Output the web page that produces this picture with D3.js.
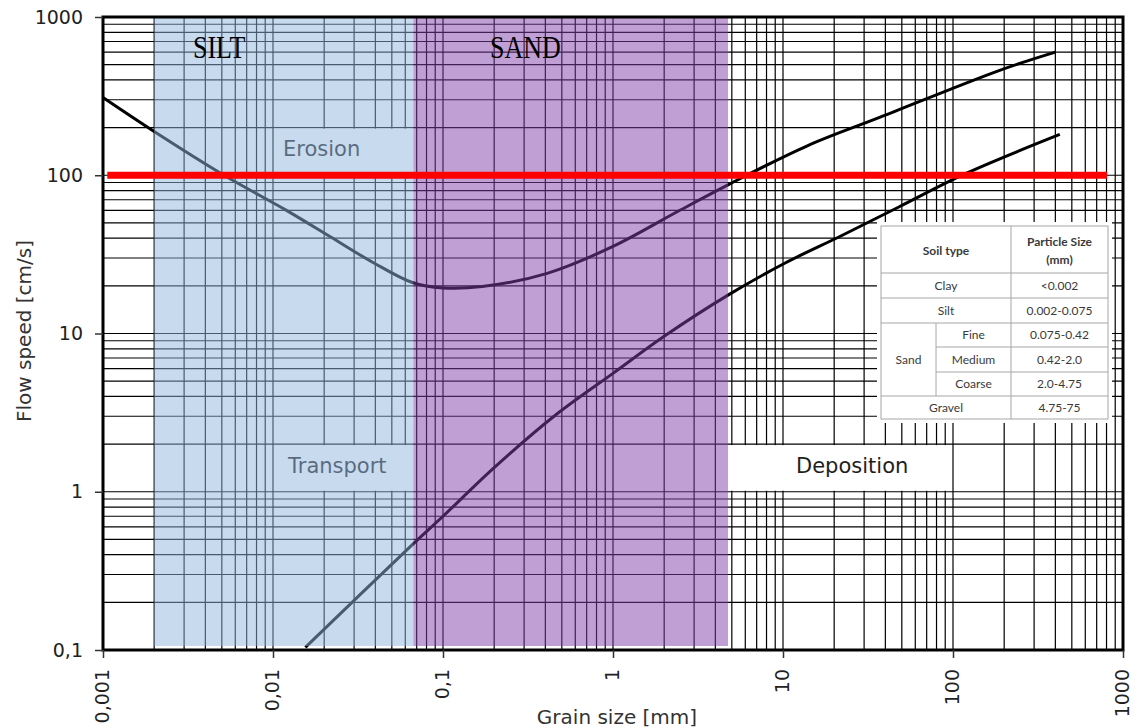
<!DOCTYPE html>
<html>
<head>
<meta charset="utf-8">
<script src="https://cdn.jsdelivr.net/npm/d3@7"></script>
<style>
    body { margin: 0; background: #fff; }
    svg { display: block; }
</style>
</head>
<body>
<div id="chart"></div>
<script>
// grain size [mm] / flow speed [cm/s]
var erosionSize  = [0.001, 0.002, 0.00515, 0.012, 0.0216, 0.039, 0.066, 0.1, 0.17, 0.41, 1, 2.4, 4.75, 13.8, 37, 190, 400];
var erosionSpeed = [310, 189, 100, 60, 41, 28, 21, 19.4, 19.8, 24, 35.5, 59, 87, 153, 232, 462, 600];

var depositSize  = [0.0155, 0.067, 0.1, 0.2, 0.45, 1, 2, 4.8, 10.3, 21.6, 48, 120, 425];
var depositSpeed = [0.104, 0.47, 0.7, 1.42, 3.0, 5.6, 9.6, 17.6, 27.9, 41, 63, 103, 181];

// shaded bands (grain size limits)
var bandNames = ["SILT", "SAND"];
var bandFrom  = [0.002, 0.067];
var bandTo    = [0.067, 4.75];

// zone labels: text, size range, speed range
var zoneNames     = ["Erosion", "Transport", "Deposition"];
var zoneSizeFrom  = [0.01, 0.01, 4.75];
var zoneSizeTo    = [0.067, 0.067, 100];
var zoneSpeedFrom = [100, 1, 1];
var zoneSpeedTo   = [200, 2, 2];

// red reference line
var refSpeed = 100;
var refFrom = 0.00106, refTo = 805;

var xTicks = [0.001, 0.01, 0.1, 1, 10, 100, 1000];
var xTickLabels = ["0,001", "0,01", "0,1", "1", "10", "100", "1000"];
var yTicks = [0.1, 1, 10, 100, 1000];
var yTickLabels = ["0,1", "1", "10", "100", "1000"];

// soil table
var tableHead = ["Soil type", "Particle Size", "(mm)"];
var soilNames = ["Clay", "Silt", "Fine", "Medium", "Coarse", "Gravel"];
var soilSizes = ["<0.002", "0.002-0.075", "0.075-0.42", "0.42-2.0", "2.0-4.75", "4.75-75"];

(function(){
    var W = 1134, H = 728;
    var svg = d3.select("#chart").append("svg").attr("width", W).attr("height", H);

    var x = d3.scaleLog().domain([0.001, 1000]).range([103, 1123]);
    var y = d3.scaleLog().domain([0.1, 1000]).range([650, 17]);

    //minor grid 1..9 per decade
    var gridX = [], gridY = [];
    for (var k = -3; k < 3; k++){
        for (var d = 1; d < 10; d++){ gridX.push(d * Math.pow(10, k)); }
    }
    for (var k = -1; k < 3; k++){
        for (var d = 1; d < 10; d++){ gridY.push(d * Math.pow(10, k)); }
    }
    var grid = svg.append("g").attr("stroke", "#000").attr("stroke-width", 1.2);
    grid.selectAll(".gx").data(gridX).enter().append("line")
        .attr("x1", function(d){ return x(d); }).attr("x2", function(d){ return x(d); })
        .attr("y1", y(1000)).attr("y2", y(0.1));
    grid.selectAll(".gy").data(gridY).enter().append("line")
        .attr("x1", x(0.001)).attr("x2", x(1000))
        .attr("y1", function(d){ return y(d); }).attr("y2", function(d){ return y(d); });

    //curves
    var line = d3.line()
        .x(function(d){ return x(d[0]); })
        .y(function(d){ return y(d[1]); })
        .curve(d3.curveCatmullRom.alpha(0.5));
    var curves = [d3.zip(erosionSize, erosionSpeed), d3.zip(depositSize, depositSpeed)];
    svg.selectAll(".curve").data(curves).enter().append("path")
        .attr("d", line)
        .attr("fill", "none")
        .attr("stroke", "#000")
        .attr("stroke-width", 3)
        .attr("stroke-linejoin", "round");

    //zone label boxes hide the grid
    var zones = svg.selectAll(".zone").data(zoneNames).enter().append("g");
    zones.append("rect")
        .attr("x", function(d, i){ return x(zoneSizeFrom[i]) + 1; })
        .attr("y", function(d, i){ return y(zoneSpeedTo[i]) + 1; })
        .attr("width", function(d, i){ return x(zoneSizeTo[i]) - x(zoneSizeFrom[i]) - 2; })
        .attr("height", function(d, i){ return y(zoneSpeedFrom[i]) - y(zoneSpeedTo[i]) - 2; })
        .attr("fill", "#fff");
    zones.append("text")
        .attr("x", function(d, i){ return i == 2 ? x(zoneSizeFrom[i]) + 68 : x(zoneSizeFrom[i]) + (i == 0 ? 10 : 15); })
        .attr("y", function(d, i){ return y(zoneSpeedFrom[i]) - 19; })
        .attr("font-family", "DejaVu Sans")
        .attr("font-size", 21)
        .attr("fill", "#1e1e1e")
        .text(function(d){ return d; });

    //translucent bands
    var bandColors = ["rgb(146,182,222)", "rgb(130,66,170)"];
    svg.selectAll(".band").data(bandNames).enter().append("rect")
        .attr("x", function(d, i){ return x(bandFrom[i]); })
        .attr("y", y(1000) + 1)
        .attr("width", function(d, i){ return x(bandTo[i]) - x(bandFrom[i]); })
        .attr("height", y(0.1) - y(1000) - 5)
        .attr("fill", function(d, i){ return bandColors[i]; })
        .attr("fill-opacity", 0.5);

    //red line
    svg.append("line")
        .attr("x1", x(refFrom)).attr("x2", x(refTo))
        .attr("y1", y(refSpeed)).attr("y2", y(refSpeed))
        .attr("stroke", "#ff0000").attr("stroke-width", 7);

    //band titles
    svg.selectAll(".bandTitle").data(bandNames).enter().append("text")
        .attr("transform", function(d, i){
            var tx = i == 0 ? 193 : 490;
            return "translate(" + tx + ",58) scale(1,1.18)";
        })
        .attr("font-family", "Liberation Serif")
        .attr("font-size", 26)
        .attr("fill", "#000")
        .text(function(d){ return d; });

    //soil table
    var tx0 = 881, tx1 = 936, tx2 = 1011, tx3 = 1108;
    var rowY = [226, 273, 298, 323, 347, 372, 396, 419];
    var tbl = svg.append("g").attr("font-family", "Lato").attr("font-size", 12).attr("fill", "#3a3a3a");
    tbl.append("rect").attr("x", 877).attr("y", 222).attr("width", 235).attr("height", 201).attr("fill", "#fff");
    var lc = "#a6a6a6";
    tbl.append("rect").attr("x", tx0).attr("y", rowY[0]).attr("width", tx3 - tx0).attr("height", rowY[7] - rowY[0])
        .attr("fill", "none").attr("stroke", lc);
    rowY.slice(1, 7).forEach(function(ry, i){
        var start = (i >= 3 && i <= 4) ? tx1 : tx0;
        tbl.append("line").attr("x1", start).attr("x2", tx3).attr("y1", ry).attr("y2", ry).attr("stroke", lc);
    });
    tbl.append("line").attr("x1", tx2).attr("x2", tx2).attr("y1", rowY[0]).attr("y2", rowY[7]).attr("stroke", lc);
    tbl.append("line").attr("x1", tx1).attr("x2", tx1).attr("y1", rowY[3]).attr("y2", rowY[6]).attr("stroke", lc);

    tbl.append("text").attr("x", (tx0 + tx2) / 2).attr("y", 255).attr("text-anchor", "middle")
        .attr("font-weight", "bold").text(tableHead[0]);
    tbl.append("text").attr("x", (tx2 + tx3) / 2).attr("y", 246).attr("text-anchor", "middle")
        .attr("font-weight", "bold").text(tableHead[1]);
    tbl.append("text").attr("x", (tx2 + tx3) / 2).attr("y", 264).attr("text-anchor", "middle")
        .attr("font-weight", "bold").text(tableHead[2]);
    soilNames.forEach(function(name, i){
        var cy = (rowY[i + 1] + rowY[i + 2]) / 2 + 4;
        var cx = (i >= 2 && i <= 4) ? (tx1 + tx2) / 2 : (tx0 + tx2) / 2;
        tbl.append("text").attr("x", cx).attr("y", cy).attr("text-anchor", "middle").text(name);
        tbl.append("text").attr("x", (tx2 + tx3) / 2).attr("y", cy).attr("text-anchor", "middle").text(soilSizes[i]);
    });
    tbl.append("text").attr("x", (tx0 + tx1) / 2).attr("y", (rowY[3] + rowY[6]) / 2 + 4)
        .attr("text-anchor", "middle").text("Sand");

    //frame
    svg.append("rect")
        .attr("x", x(0.001)).attr("y", y(1000))
        .attr("width", x(1000) - x(0.001)).attr("height", y(0.1) - y(1000))
        .attr("fill", "none").attr("stroke", "#000").attr("stroke-width", 3);

    //axes
    var yAxis = d3.axisLeft(y).tickValues(yTicks).tickSize(8).tickPadding(12)
        .tickFormat(function(d, i){ return yTickLabels[i]; });
    var gy = svg.append("g").attr("transform", "translate(" + x(0.001) + ",0)").call(yAxis);
    gy.select(".domain").remove();
    gy.selectAll("line").attr("stroke", "#333").attr("stroke-width", 1.5);
    gy.selectAll("text").attr("font-family", "DejaVu Sans").attr("font-size", 19).attr("fill", "#222");

    var xAxis = d3.axisBottom(x).tickValues(xTicks).tickSize(8)
        .tickFormat(function(d, i){ return xTickLabels[i]; });
    var gx = svg.append("g").attr("transform", "translate(0," + y(0.1) + ")").call(xAxis);
    gx.select(".domain").remove();
    gx.selectAll("line").attr("stroke", "#333").attr("stroke-width", 1.5);
    gx.selectAll("text")
        .attr("font-family", "DejaVu Sans").attr("font-size", 19).attr("fill", "#222")
        .attr("text-anchor", "end")
        .attr("x", 0).attr("y", 0).attr("dy", "0.35em")
        .attr("transform", "translate(-1,19) rotate(-90)");

    //axis titles
    svg.append("text")
        .attr("transform", "translate(31,331) rotate(-90)")
        .attr("text-anchor", "middle")
        .attr("font-family", "DejaVu Sans").attr("font-size", 20).attr("fill", "#333")
        .text("Flow speed [cm/s]");
    svg.append("text")
        .attr("x", 617).attr("y", 724)
        .attr("text-anchor", "middle")
        .attr("font-family", "DejaVu Sans").attr("font-size", 20).attr("fill", "#333")
        .text("Grain size [mm]");
})();
</script>
</body>
</html>
